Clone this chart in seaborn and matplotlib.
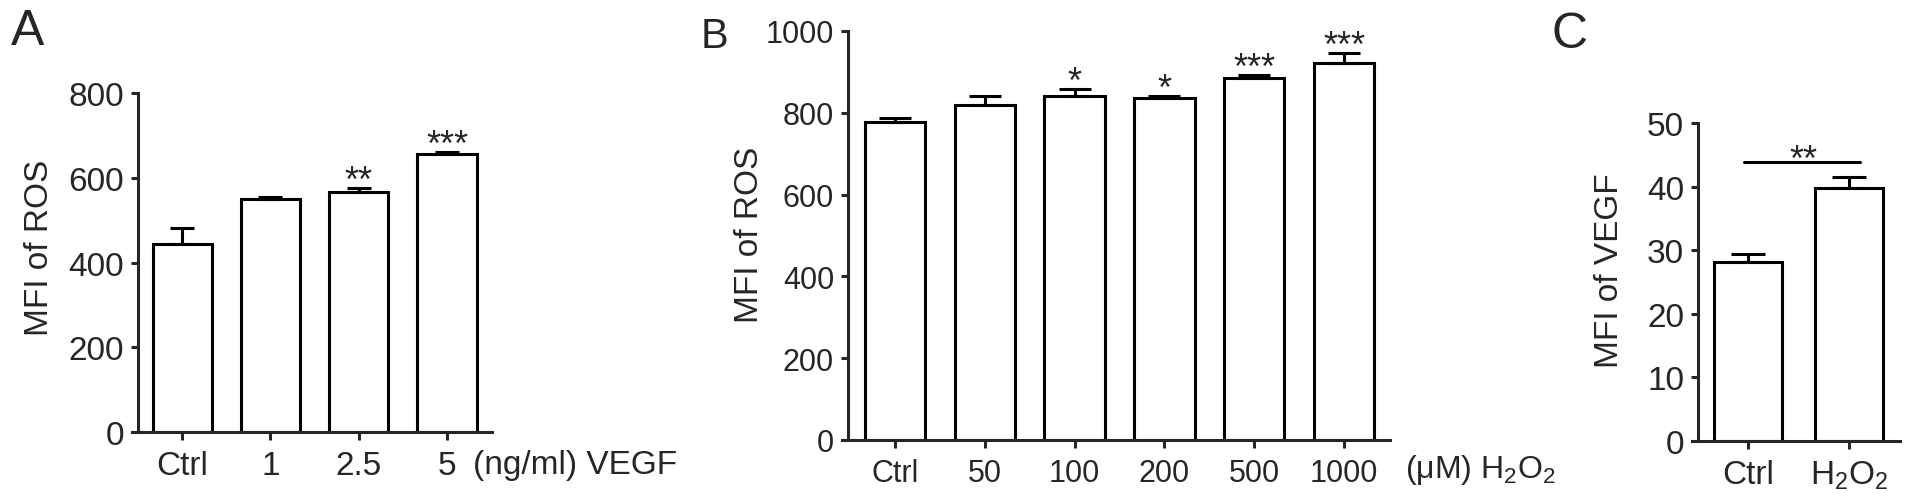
import numpy as np
import pandas as pd
import matplotlib
matplotlib.use("Agg")
import matplotlib.pyplot as plt
import seaborn as sns

# panel A: ROS vs VEGF dose
a_groups = ["Ctrl", "1", "2.5", "5"]
a_mfi = [444, 550, 567, 656]
a_sem = [38, 4, 8, 4]
a_stars = ["", "", "**", "***"]

# panel B: ROS vs H2O2 dose
b_groups = ["Ctrl", "50", "100", "200", "500", "1000"]
b_mfi = [778, 818, 842, 835, 884, 922]
b_sem = [10, 22, 16, 6, 8, 24]
b_stars = ["", "", "*", "*", "***", "***"]

# panel C: VEGF, Ctrl vs H2O2
c_groups = ["Ctrl", "H$_2$O$_2$"]
c_mfi = [28.2, 39.8]
c_sem = [1.15, 1.65]

sns.set_style("ticks")
plt.rcParams["font.family"] = ["Liberation Sans", "DejaVu Sans"]
plt.rcParams["mathtext.fontset"] = "custom"
plt.rcParams["mathtext.rm"] = "Liberation Sans"
plt.rcParams["mathtext.it"] = "Liberation Sans:italic"
plt.rcParams["mathtext.bf"] = "Liberation Sans:bold"

W, H = 1913, 502
fig = plt.figure(figsize=(W / 100, H / 100), dpi=100)


def px_axes(left, right, top, bottom):
    return fig.add_axes([left / W, (H - bottom) / H, (right - left) / W, (bottom - top) / H])


LW = 2.2


def draw_bars(ax, groups, mfi, sem, cap, ylim, yticks, xlim, fs, spacing_px):
    df = pd.DataFrame({"group": groups, "mfi": mfi})
    sns.barplot(data=df, x="group", y="mfi", ax=ax, color="white", edgecolor="black",
                linewidth=LW, width=0.67, errorbar=None, saturation=1)
    x = np.arange(len(groups))
    ax.errorbar(x, mfi, yerr=[np.zeros(len(sem)), sem], fmt="none", ecolor="black",
                elinewidth=LW, capsize=cap, capthick=LW, zorder=1)
    ax.set_ylim(*ylim)
    ax.set_yticks(yticks)
    ax.set_xlim(*xlim)
    ax.set_xlabel("")
    sns.despine(ax=ax)
    for s in ["left", "bottom"]:
        ax.spines[s].set_linewidth(LW)
        ax.spines[s].set_capstyle("projecting")
    # x axis line runs a little past the y axis, like the original
    ax.spines["bottom"].set_bounds(xlim[0] - 6 / spacing_px, xlim[1])
    ax.tick_params(axis="y", length=5, width=LW, pad=5, labelsize=fs)
    ax.tick_params(axis="x", length=6, width=LW, pad=7, labelsize=fs)


def add_stars(ax, mfi, sem, stars, dy=-2):
    for i, s in enumerate(stars):
        if s:
            ax.annotate(s, xy=(i, mfi[i] + sem[i]), xytext=(0, dy), textcoords="offset points",
                        ha="center", va="baseline", fontsize=26)


# A
axA = px_axes(138, 492, 94, 433)
draw_bars(axA, a_groups, a_mfi, a_sem, 8.6, (0, 800), [0, 200, 400, 600, 800], (-0.5, 3.51), 24, 88)
add_stars(axA, a_mfi, a_sem, a_stars)
axA.set_ylabel("MFI of ROS", fontsize=24)
axA.yaxis.set_label_coords(-0.234, 0.546)
axA.text(3.29, -0.095, "(ng/ml) VEGF", transform=axA.get_xaxis_transform(),
         ha="left", va="center", fontsize=24)

# B
axB = px_axes(848, 1390, 32, 441)
draw_bars(axB, b_groups, b_mfi, b_sem, 11.5, (0, 1000), [0, 200, 400, 600, 800, 1000],
          (-0.52, 5.51), 22, 90)
add_stars(axB, b_mfi, b_sem, b_stars)
axB.set_ylabel("MFI of ROS", fontsize=24)
axB.yaxis.set_label_coords(-0.153, 0.504)
axB.text(5.68, -0.07, "(μM) H$_2$O$_2$", transform=axB.get_xaxis_transform(),
         ha="left", va="center", fontsize=23)

# C
axC = px_axes(1698, 1900, 124, 442)
draw_bars(axC, c_groups, c_mfi, c_sem, 12, (0, 50), [0, 10, 20, 30, 40, 50], (-0.495, 1.505), 24, 101)
axC.set_ylabel("MFI of VEGF", fontsize=24)
axC.yaxis.set_label_coords(-0.361, 0.538)
axC.plot([-0.04, 1.11], [43.9, 43.9], color="black", lw=LW, clip_on=False)
axC.annotate("**", xy=(0.55, 43.9), xytext=(0, -6), textcoords="offset points",
             ha="center", va="baseline", fontsize=26)

# panel letters
for letter, px, py, size in [("A", 28, 32, 36), ("B", 715, 37, 30), ("C", 1570, 35, 36)]:
    fig.text(px / W, 1 - py / H, letter, ha="center", va="center", fontsize=size)

fig.savefig("out.png", dpi=100)
